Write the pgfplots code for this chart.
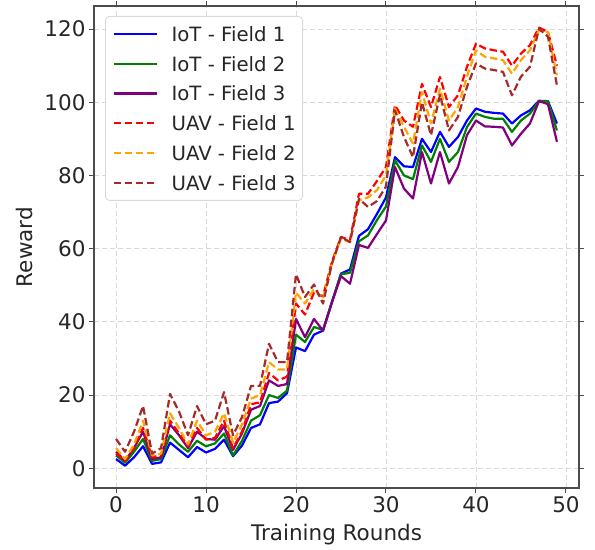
\documentclass[border=0pt]{standalone}
\usepackage{fontspec}
\setmainfont{DejaVu Sans}
\usepackage{pgfplots}
\pgfplotsset{compat=1.18}
\usepackage{pgfplotstable}

\definecolor{iotblue}{RGB}{0,0,255}
\definecolor{iotgreen}{RGB}{0,128,0}
\definecolor{iotpurple}{RGB}{128,0,128}
\definecolor{uavred}{RGB}{255,0,0}
\definecolor{uavorange}{RGB}{255,165,0}
\definecolor{uavbrown}{RGB}{165,42,42}

\pgfplotstableread{
x iotA iotB iotC uavA uavB uavC
0 2.5 3.5 4.5 4 5.5 8
1 0.7 1.5 2 2 2.5 4.5
2 3 4.5 5.5 5.5 6.5 10
3 6 8 10 11 13 17
4 1.2 2 2.5 3 3.5 4
5 1.6 2.5 3 3.5 4 5.5
6 7 9 12 13 15 20.3
7 5 6.5 9 9.5 11 15.5
8 3 4.5 5.5 6 6.5 9
9 5.8 7.5 10 11 13 17
10 4.3 6 8 7.8 9 12
11 5.3 6.8 7.8 8.3 10 13
12 7.8 9.5 11.5 13 15 20.8
13 3.3 3.5 5 5.5 7 9
14 6.2 7.5 9.5 10 12 14
15 11 13 16 17.5 19 22.5
16 12 14.5 17 18 20 22.5
17 17.8 20 24 26 29 34
18 18.2 19.2 22.5 24 27 29
19 20.5 21.2 23 25 27 29
20 33 36.5 40.8 45 48 53
21 32 34.5 35.8 42 45 46.8
22 36.5 38.6 40.8 48 49 50.2
23 37.6 37.8 37.6 47 46.3 45
24 45.5 45.4 45.4 56.5 56 56
25 53.2 53 52.5 63.2 62.7 63.2
26 54.3 53.4 50.4 62.3 61.8 61.8
27 63.5 62 61 75 73.2 73.6
28 65.3 63.6 60.2 75 74 71.4
29 69.5 67.8 64 78.5 76 73
30 74 71.5 67.7 82.3 80 77
31 85 84.1 82.3 99.2 98.3 97.8
32 82.5 80 76.4 95 93.3 90.5
33 82.3 79 73.7 93.3 88.7 85
34 90 88.2 86.4 105 102.8 100
35 86.4 83.7 77.8 98.7 94.2 91
36 91.9 90 86.4 106.9 103.7 102
37 87.8 83.7 77.8 98.7 95 92.3
38 90.5 86.4 82.3 101.9 98.7 96
39 95 93.2 91 109.7 107 104.2
40 98.3 96.9 95 116 114.2 110.6
41 97.4 96 93.4 114.7 112.4 109.2
42 97.1 95.5 93.3 114.2 112 108.8
43 96.9 95.5 93.1 113.8 111.5 108.3
44 94.2 91.9 88.2 110 107.8 101.9
45 96.4 95 91.4 113.3 111.5 107
46 97.8 96.9 94.2 115.6 114.2 109.7
47 100.4 100.3 100.3 120.4 119.7 120.1
48 100.3 100.3 99.5 119.2 119.2 117.9
49 94.2 92.3 89.2 110 107.4 104.6
}\data

\begin{document}
\begin{tikzpicture}
\begin{axis}[
  scale only axis, width=485bp, height=482bp,
  xmin=-2.45, xmax=51.45, ymin=-5.4, ymax=126.3,
  xtick={0,10,...,50}, ytick={0,20,...,120},
  tick align=outside, major tick length=5bp,
  tick style={black!70, line width=1bp},
  axis line style={black!70, line width=1.1bp},
  grid=major,
  major grid style={gray!30, line width=0.8bp, dash pattern=on 5bp off 3bp},
  /pgf/number format/assume math mode=true,
  ticklabel style={font=\fontsize{21.5bp}{26bp}\selectfont, text=black!85},
  label style={font=\fontsize{21.5bp}{26bp}\selectfont, text=black!85},
  xlabel={Training Rounds}, ylabel={Reward},
  xlabel style={yshift=-5bp},
  ylabel style={yshift=5bp},
  legend cell align=left,
  legend image code/.code={\draw[#1] (0bp,0bp) -- (43bp,0bp);},
  legend style={at={(0.0227,0.9793)}, anchor=north west,
    draw=black!15, line width=0.8bp, rounded corners=4bp, fill=white,
    font=\fontsize{19.7bp}{23bp}\selectfont, text=black!85,
    inner xsep=7bp, inner ysep=10bp, row sep=14.8bp,
    nodes={inner sep=0pt, text height=15bp, text depth=0bp},
    /tikz/every odd column/.append style={column sep=14bp}},
  every axis plot/.append style={line width=2.2bp, line join=round},
  dashedline/.style={dash pattern=on 7.5bp off 3.5bp},
]
\addplot[iotblue] table[x=x, y=iotA] {\data};
\addlegendentry{IoT - Field 1}
\addplot[iotgreen] table[x=x, y=iotB] {\data};
\addlegendentry{IoT - Field 2}
\addplot[iotpurple] table[x=x, y=iotC] {\data};
\addlegendentry{IoT - Field 3}
\addplot[uavred, dashedline] table[x=x, y=uavA] {\data};
\addlegendentry{UAV - Field 1}
\addplot[uavorange, dashedline] table[x=x, y=uavB] {\data};
\addlegendentry{UAV - Field 2}
\addplot[uavbrown, dashedline] table[x=x, y=uavC] {\data};
\addlegendentry{UAV - Field 3}
\end{axis}
\pgfresetboundingbox
\path[use as bounding box] (-94bp,-62bp) rectangle (501bp,488bp);
\end{tikzpicture}
\end{document}
